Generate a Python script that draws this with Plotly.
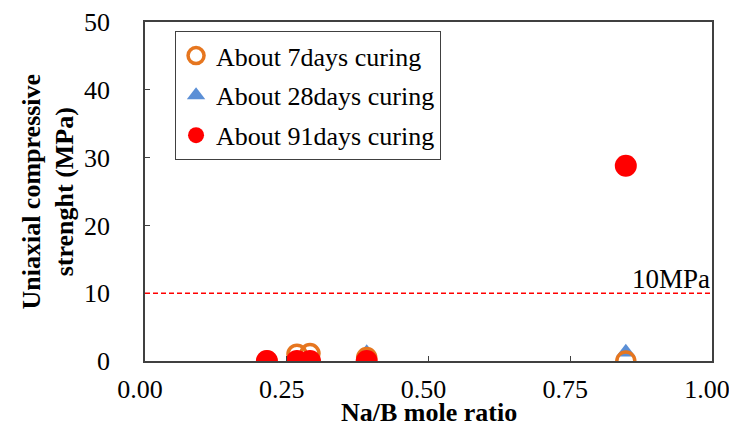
import plotly.graph_objects as go

ratio = [0.215, 0.268, 0.291, 0.391, 0.848]
days7 = [0.0, 1.0, 1.1, 0.5, 0.0]
days28 = [0.0, 0.0, 0.0, 1.2, 1.3]
days91 = [0.0, 0.0, 0.0, 0.0, 28.8]
threshold = 10
y_ticks = [0, 10, 20, 30, 40, 50]
x_ticks = [0.0, 0.25, 0.5, 0.75, 1.0]
x_tick_labels = ["0.00", "0.25", "0.50", "0.75", "1.00"]

FONT = "Liberation Serif, Times New Roman, serif"
FS = 26

fig = go.Figure()
fig.add_trace(go.Scatter(
    x=ratio, y=days28, mode="markers", name="About 28days curing",
    marker=dict(symbol="triangle-up", size=17, color="#5b8fd6"),
    legendrank=2, legendgroup="b"))
fig.add_trace(go.Scatter(
    x=ratio, y=days7, mode="markers", name="About 7days curing",
    marker=dict(symbol="circle-open", size=18, color="#e6761f", line=dict(width=3.5, color="#e6761f")),
    legendrank=1, legendgroup="a"))
fig.add_trace(go.Scatter(
    x=ratio, y=days91, mode="markers", name="About 91days curing",
    marker=dict(symbol="circle", size=22, color="#ff0000"),
    legendrank=3, legendgroup="c"))

fig.add_shape(type="line", xref="paper", yref="y", x0=0, x1=1, y0=threshold, y1=threshold,
              line=dict(color="#ff0000", width=1.5, dash="5px,3px"))
fig.add_annotation(xref="paper", yref="y", x=1.0, y=threshold, text="10MPa",
                   showarrow=False, xanchor="right", yanchor="bottom", yshift=-3,
                   font=dict(family=FONT, size=27, color="black"))
fig.add_annotation(xref="paper", yref="paper", x=-0.171, y=0.5, xanchor="center", yanchor="middle",
                   text="<b>Uniaxial compressive<br>strenght (MPa)</b>", textangle=-90,
                   showarrow=False, font=dict(family=FONT, size=FS, color="black"))
fig.add_annotation(xref="paper", yref="paper", x=0.5, y=-0.153, yanchor="middle", xanchor="center",
                   text="<b>Na/B mole ratio</b>",
                   showarrow=False, font=dict(family=FONT, size=FS, color="black"))
fig.add_shape(type="line", xref="paper", yref="paper", x0=-0.26, x1=1.1, y0=1.047, y1=1.047,
              line=dict(color="#d0d0d0", width=1.5))

fig.update_layout(
    width=737, height=425,
    margin=dict(l=137, r=33, t=14, b=72, autoexpand=False),
    plot_bgcolor="white", paper_bgcolor="white",
    font=dict(family=FONT, size=FS, color="black"),
    showlegend=True,
    legend=dict(x=0.053, y=0.973, xanchor="left", yanchor="top",
                bordercolor="#404040", borderwidth=1, bgcolor="white",
                font=dict(family=FONT, size=FS), tracegroupgap=3,
                traceorder="grouped", itemwidth=30),
    xaxis=dict(range=[0, 1], tickvals=x_ticks, ticktext=x_tick_labels, automargin=False,
               showgrid=False, zeroline=False, showline=True, linecolor="#404040",
               linewidth=1.5, mirror=True, ticks="inside", ticklen=5, tickcolor="#404040",
               ticklabelstandoff=4, ticklabelshift=-5,
               tickfont=dict(size=FS, family=FONT)),
    yaxis=dict(range=[0, 50], tickvals=y_ticks, showgrid=False, zeroline=False, automargin=False,
               showline=True, linecolor="#404040", linewidth=1.5, mirror=True,
               ticks="inside", ticklen=5, tickcolor="#404040", ticklabelstandoff=28,
               tickfont=dict(size=FS, family=FONT)),
)
fig.write_html("out.html")
